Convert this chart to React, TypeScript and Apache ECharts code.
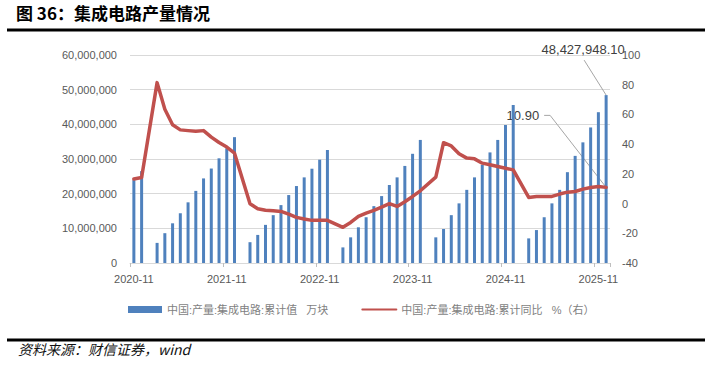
import React, { useEffect, useRef } from 'react';
import * as echarts from 'echarts';

const months: string[] = [
  '2020-11', '2020-12',
  '2021-01', '2021-02', '2021-03', '2021-04', '2021-05', '2021-06', '2021-07', '2021-08', '2021-09', '2021-10', '2021-11', '2021-12',
  '2022-01', '2022-02', '2022-03', '2022-04', '2022-05', '2022-06', '2022-07', '2022-08', '2022-09', '2022-10', '2022-11', '2022-12',
  '2023-01', '2023-02', '2023-03', '2023-04', '2023-05', '2023-06', '2023-07', '2023-08', '2023-09', '2023-10', '2023-11', '2023-12',
  '2024-01', '2024-02', '2024-03', '2024-04', '2024-05', '2024-06', '2024-07', '2024-08', '2024-09', '2024-10', '2024-11', '2024-12',
  '2025-01', '2025-02', '2025-03', '2025-04', '2025-05', '2025-06', '2025-07', '2025-08', '2025-09', '2025-10', '2025-11', '2025-12',
];

// 中国:产量:集成电路:累计值 (万块)
const outputCum: (number | null)[] = [
  23900000, 26500000,
  null, 5800000, 8600000, 11450000, 14350000, 17500000, 20800000, 24400000, 27250000, 30200000, 33100000, 36300000,
  null, 6000000, 8100000, 11000000, 13800000, 16700000, 19600000, 22200000, 24700000, 27200000, 29800000, 32600000,
  null, 4500000, 7400000, 10300000, 13200000, 16400000, 19300000, 22500000, 24700000, 28000000, 31500000, 35500000,
  null, 7400000, 9800000, 13800000, 17200000, 21100000, 24700000, 28300000, 31900000, 35500000, 39800000, 45600000,
  null, 7100000, 9500000, 13200000, 17200000, 21100000, 26200000, 30900000, 34800000, 39100000, 43500000, 48427948.10,
];

// 中国:产量:集成电路:累计同比 (%)
const yoyCum: (number | null)[] = [
  16.5, 17.5,
  null, 81.4, 63.5, 53.0, 49.6, 49.1, 48.6, 49.1, 44.7, 41.1, 38.0, 33.9,
  null, -0.1, -3.5, -4.5, -4.8, -5.3, -7.1, -9.3, -10.4, -11.3, -11.3, -11.3,
  null, -16.0, -12.7, -8.6, -6.4, -4.6, -2.4, -0.1, -1.9, 1.2, 4.8, 8.6,
  null, 17.8, 41.0, 38.8, 33.5, 30.6, 30.1, 27.2, 26.1, 24.9, 23.8, 22.7,
  null, 4.1, 4.8, 4.8, 4.8, 6.4, 7.7, 8.1, 9.7, 10.8, 11.5, 10.9,
];

const leftTicks = { min: 0, max: 60000000, interval: 10000000 };
const rightTicks = { min: -40, max: 100, interval: 20 };

const barName = '中国:产量:集成电路:累计值   万块';
const lineName = '中国:产量:集成电路:累计同比   %（右）';
const titleText = '图 36：集成电路产量情况';
const sourceText = '资料来源：财信证券，wind';

const latin = '"Liberation Sans", "Noto Sans CJK SC", sans-serif';
const cjk = '"Noto Sans CJK SC", "Liberation Sans", sans-serif';

export default function App() {
  const ref = useRef<HTMLDivElement>(null);
  useEffect(() => {
    if (!ref.current) return;
    const chart = echarts.init(ref.current, undefined, { renderer: 'svg' });
    const baseGraphic: any[] = [
      {
        type: 'text', left: 16, top: 4,
        style: { text: titleText, fontSize: 17, fontWeight: 'bold', fontFamily: cjk, fill: '#000' },
      },
      { type: 'rect', shape: { x: 7, y: 28.5, width: 698, height: 3 }, style: { fill: '#000' } },
      { type: 'rect', shape: { x: 7, y: 338.5, width: 698, height: 3 }, style: { fill: '#000' } },
      {
        type: 'text', left: 18, top: 342,
        style: { text: sourceText, fontSize: 14, fontStyle: 'italic', fontFamily: cjk, fill: '#111' },
      },
    ];
    const option: any = {
      animation: false,
      backgroundColor: '#fff',
      grid: { left: 130, right: 101, top: 55, bottom: 108 },
      legend: {
        left: 123, top: 299,
        itemWidth: 34, itemHeight: 7, itemGap: 33,
        textStyle: { color: '#7f7f7f', fontSize: 11, fontFamily: latin },
        data: [
          { name: barName, icon: 'rect' },
          { name: lineName, itemStyle: { opacity: 0 } },
        ],
      },
      xAxis: {
        type: 'category',
        data: months,
        boundaryGap: true,
        axisLine: { lineStyle: { color: '#d9d9d9', width: 1 } },
        axisTick: { show: true, interval: 11, length: 4, lineStyle: { color: '#bfbfbf' } },
        axisLabel: { interval: 11, color: '#595959', fontSize: 11, fontFamily: latin, margin: 10 },
      },
      yAxis: [
        {
          type: 'value', ...leftTicks,
          axisLine: { show: false }, axisTick: { show: false },
          splitLine: { lineStyle: { color: '#d9d9d9', width: 1 } },
          axisLabel: {
            color: '#595959', fontSize: 11, fontFamily: latin, margin: 13,
            formatter: (v: number) => v.toLocaleString('en-US'),
          },
        },
        {
          type: 'value', ...rightTicks,
          axisLine: { show: false }, axisTick: { show: false },
          splitLine: { show: false },
          axisLabel: { color: '#595959', fontSize: 11, fontFamily: latin, margin: 12 },
        },
      ],
      series: [
        {
          name: barName, type: 'bar', data: outputCum, barWidth: 3,
          itemStyle: { color: '#4f81bd' },
        },
        {
          name: lineName, type: 'line', yAxisIndex: 1, data: yoyCum,
          connectNulls: true, symbol: 'none', showSymbol: false, smooth: false,
          lineStyle: { color: '#c0504d', width: 3.5, cap: 'round', join: 'round' },
          itemStyle: { color: '#c0504d' },
        },
      ],
      graphic: baseGraphic,
    };
    chart.setOption(option);

    const last = months.length - 1;
    const pb = chart.convertToPixel({ seriesIndex: 0 }, [last, outputCum[last] as number]) as number[];
    const pl = chart.convertToPixel({ seriesIndex: 1 }, [last, yoyCum[last] as number]) as number[];
    const barLabel = (outputCum[last] as number).toLocaleString('en-US', { minimumFractionDigits: 2, maximumFractionDigits: 2 });
    const lineLabel = (yoyCum[last] as number).toFixed(2);
    const ann: any[] = [
      {
        type: 'polyline', silent: true,
        shape: { points: [[pb[0] - 22, pb[1] - 35], [pb[0], pb[1]]] },
        style: { stroke: '#a6a6a6', lineWidth: 1, fill: null },
      },
      {
        type: 'text', x: pb[0] - 23, y: pb[1] - 46,
        style: { text: barLabel, fontSize: 13, fontFamily: latin, fill: '#404040', align: 'center', verticalAlign: 'middle' },
      },
      {
        type: 'polyline', silent: true,
        shape: { points: [[pl[0] - 62, pl[1] - 72], [pl[0] - 56, pl[1] - 72], [pl[0], pl[1]]] },
        style: { stroke: '#a6a6a6', lineWidth: 1, fill: null },
      },
      {
        type: 'text', x: pl[0] - 67, y: pl[1] - 72,
        style: { text: lineLabel, fontSize: 13, fontFamily: latin, fill: '#404040', align: 'right', verticalAlign: 'middle' },
      },
    ];
    chart.setOption({ graphic: [...baseGraphic, ...ann] }, { replaceMerge: ['graphic'] });

    return () => chart.dispose();
  }, []);
  return (
    <div
      ref={ref}
      style={{ position: 'fixed', left: 0, top: 0, width: 711, height: 371, background: '#fff' }}
    />
  );
}
